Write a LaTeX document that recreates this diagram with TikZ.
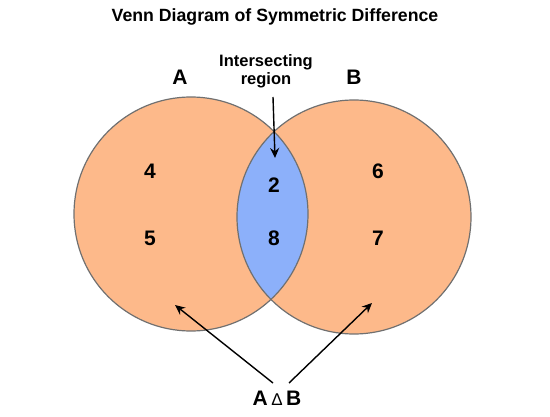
\documentclass[tikz,border=0pt]{standalone}
\usepackage{fontspec}
\setmainfont{Liberation Sans}
\usetikzlibrary{arrows.meta}
\definecolor{peach}{RGB}{253,185,138}
\definecolor{lensblue}{RGB}{140,176,250}
\definecolor{rim}{RGB}{112,112,112}
\tikzset{
  setcircle/.style={draw=rim,line width=1.2pt},
  num/.style={font=\bfseries\fontsize{21}{24}\selectfont,inner sep=0pt},
  setlabel/.style={font=\bfseries\fontsize{21}{24}\selectfont,inner sep=0pt},
  pointer/.style={line width=1.4pt,-{Stealth[length=10pt,width=9pt]}},
}
\begin{document}
\begin{tikzpicture}[x=1pt,y=-1pt]
\useasboundingbox (0,0) rectangle (550,417);
% circles
\fill[peach] (191,214) circle (117);
\fill[peach] (354,217) circle (117);
\begin{scope}
  \clip (191,214) circle (117);
  \fill[lensblue] (354,217) circle (117);
\end{scope}
\draw[setcircle] (191,214) circle (117);
\draw[setcircle] (354,217) circle (117);
% title
\node[font=\bfseries\fontsize{17.7}{20}\selectfont] (title) at (275,17) {Venn Diagram of Symmetric Difference};
% set labels
\node[setlabel] (A) at (180,77) {A};
\node[setlabel] (B) at (354,77) {B};
% intersecting label
\node[font=\bfseries\fontsize{16.5}{18}\selectfont,align=center,inner sep=1pt] (inter) at (266,71) {Intersecting\\region};
\coordinate (intertip) at (275,158);
\draw[pointer] (273,97) -- (intertip);
% numbers
\node[num] (n4) at (150,171) {4};
\node[num] (n5) at (150,238) {5};
\node[num] (n2) at (274,185) {2};
\node[num] (n8) at (274,238) {8};
\node[num] (n6) at (378,171) {6};
\node[num] (n7) at (378,238) {7};
% symmetric difference label
\node[inner sep=0pt,anchor=base] (sd) at (277,406) {\bfseries\fontsize{21}{24}\selectfont A\,{\mdseries\fontsize{17}{18}\selectfont Δ}\,B};
\coordinate (leftstart) at (273,383);
\coordinate (rightstart) at (289,383);
\coordinate (lefttip) at (175,305);
\coordinate (righttip) at (372,303);
\draw[pointer] (leftstart) -- (lefttip);
\draw[pointer] (rightstart) -- (righttip);
\end{tikzpicture}
\end{document}
